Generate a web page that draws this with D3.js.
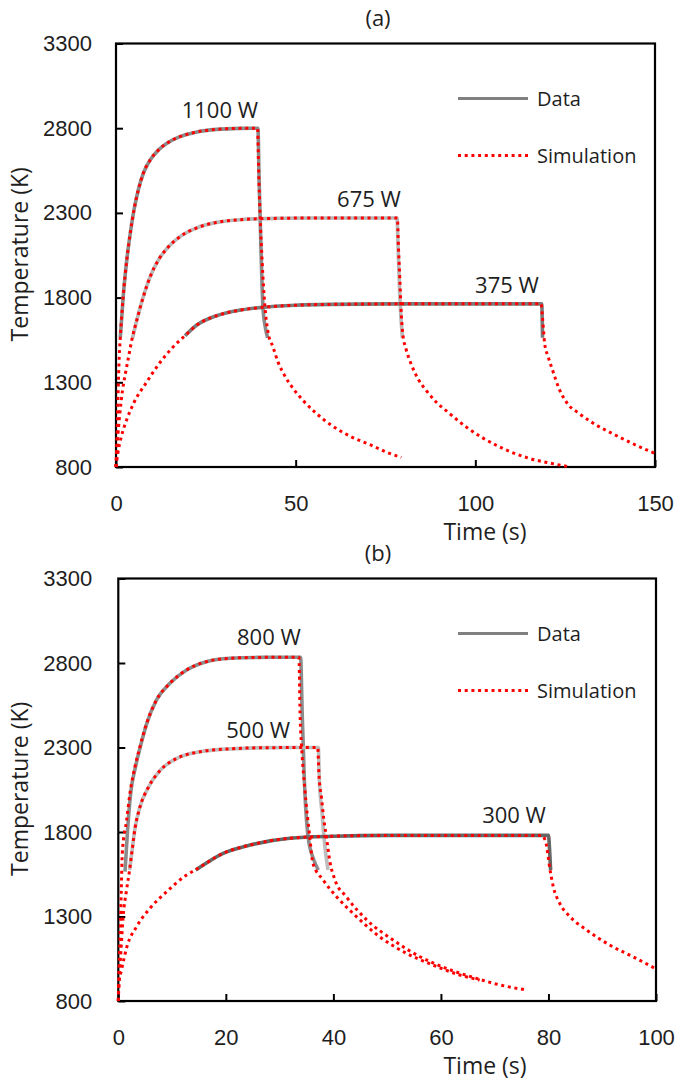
<!DOCTYPE html>
<html>
<head>
<meta charset="utf-8">
<script src="https://cdn.jsdelivr.net/npm/d3@7"></script>
<style>
  html, body { margin: 0; padding: 0; background: #fff; }
  svg { display: block; font-family: "Open Sans", "DejaVu Sans", sans-serif; }
</style>
</head>
<body>
<svg id="chart" width="676" height="1084"></svg>
<script>
// ---------------- DATA (time s, temperature K) ----------------
// Panel (a)
const panelATitle = "(a)";
const panelAXTicks = [0, 50, 100, 150];
const panelAYTicks = [800, 1300, 1800, 2300, 2800, 3300];
const panelAPowers = ["1100 W", "675 W", "375 W"];
const panelALabelAt = [[28.9, 2860], [70.4, 2337], [108.8, 1825]];

const dataA1100 = [[1.2,1565],[2.0,1805],[3.0,2022],[4.1,2199],[5.0,2317],[6.2,2435],[7.6,2534],[9.5,2612],[11.8,2671],[14.6,2717],[17.8,2750],[22.5,2778],[28,2793],[34.5,2799],[39.5,2800],[39.8,2520],[40.2,2200],[40.9,1743],[41.6,1620],[42.2,1563]];
const simA1100 = [[0,800],[0.3,1000],[0.6,1250],[0.9,1450],[1.2,1565],[2.0,1805],[3.0,2022],[4.1,2199],[5.0,2317],[6.2,2435],[7.6,2534],[9.5,2612],[11.8,2671],[14.6,2717],[17.8,2750],[22.5,2778],[28,2793],[34.5,2799],[39.4,2800],[39.7,2550],[40.1,2290],[40.7,2000],[41.4,1760],[42.3,1596],[43.7,1508],[45.1,1419],[46.9,1341],[49.3,1263],[52,1194],[55.3,1125],[59.9,1047],[65.5,978],[71,929],[75.7,884],[79.4,857]];

const dataA675 = [[4.6,1560],[5.8,1668],[7.6,1805],[9.5,1923],[11.8,2022],[14.6,2100],[17.8,2160],[22.5,2212],[28,2244],[34.5,2260],[45,2268],[55,2270],[78.2,2270],[78.5,2100],[79.0,1800],[79.7,1563]];
const simA675 = [[0,800],[0.4,950],[1.0,1100],[1.8,1250],[2.6,1350],[3.5,1450],[4.4,1550],[5.8,1668],[7.6,1805],[9.5,1923],[11.8,2022],[14.6,2100],[17.8,2160],[22.5,2212],[28,2244],[34.5,2260],[45,2268],[55,2270],[78.3,2270],[78.6,2100],[79.0,1900],[79.4,1700],[79.8,1586],[80.7,1498],[82.1,1410],[84,1322],[86.3,1253],[89.1,1184],[92.3,1125],[97.4,1037],[106.7,919],[115,851],[121,822],[126.5,800]];

const dataA375 = [[19.2,1575],[22.5,1638],[28,1693],[34.5,1726],[40,1741],[50,1755],[60,1760],[80,1763],[118.5,1763],[118.6,1680],[118.7,1563]];
const simA375 = [[0,800],[0.5,880],[1.5,980],[3,1080],[5,1180],[8.5,1300],[12,1410],[15.5,1500],[19.2,1575],[22.5,1638],[28,1693],[34.5,1726],[40,1741],[50,1755],[60,1760],[80,1763],[118.3,1763],[118.7,1680],[119.3,1528],[120.3,1449],[121.5,1371],[123.3,1263],[125.6,1175],[128.9,1116],[132.6,1061],[138.1,998],[143.7,939],[150,880]];

// Panel (b)
const panelBTitle = "(b)";
const panelBXTicks = [0, 20, 40, 60, 80, 100];
const panelBYTicks = [800, 1300, 1800, 2300, 2800, 3300];
const panelBPowers = ["800 W", "500 W", "300 W"];
const panelBLabelAt = [[28.0, 2907], [26.0, 2354], [73.6, 1851]];

const dataB800 = [[1.25,1565],[1.7,1800],[2.3,2029],[3.2,2186],[4.1,2305],[5.3,2443],[7.1,2581],[9.6,2680],[12.7,2759],[16.4,2808],[20.8,2828],[26,2833],[33.9,2834],[34.2,2500],[34.6,2108],[35.3,1772],[36.3,1640],[37.2,1575]];
const simB800 = [[0,800],[0.15,1000],[0.35,1200],[0.55,1450],[0.74,1674],[1.55,1871],[2.17,2029],[3.1,2186],[4.03,2305],[5.27,2443],[7.1,2581],[9.6,2680],[12.7,2759],[16.4,2808],[20.8,2828],[26,2833],[33.6,2834],[33.8,2500],[34.1,2300],[34.7,2050],[35.6,1772],[36.2,1615],[38.1,1516],[40.6,1417],[44.3,1299],[48.6,1180],[53.6,1082],[58.5,1013],[63.5,954],[67.2,924]];

const dataB500 = [[2.1,1575],[2.5,1674],[3.1,1820],[4.0,1945],[5.6,2065],[7.8,2165],[10.9,2236],[15.2,2275],[20.8,2292],[28,2299],[37.2,2300],[37.4,2100],[37.9,1911],[38.3,1750],[39.0,1575]];
const simB500 = [[0,800],[0.2,950],[0.5,1100],[0.9,1300],[1.5,1450],[2.1,1575],[2.5,1674],[3.1,1820],[4.0,1945],[5.6,2065],[7.8,2165],[10.9,2236],[15.2,2275],[20.8,2292],[28,2299],[37.1,2300],[37.3,2150],[37.8,2000],[38.2,1880],[38.7,1772],[39.3,1634],[40.3,1516],[42.4,1417],[46.2,1280],[51.1,1161],[56.1,1062],[61,993],[66.6,934],[69.7,905],[75.9,865]];

const dataB300 = [[14.4,1575],[19.5,1674],[24.5,1723],[31.9,1763],[40,1775],[50,1780],[80,1780],[80.2,1700],[80.4,1575]];
const simB300 = [[0,800],[0.1,900],[0.6,983],[1.6,1121],[3.4,1240],[5.9,1349],[9.0,1447],[12.7,1546],[14.3,1575],[19.5,1674],[24.5,1723],[31.9,1763],[40,1775],[50,1780],[78.7,1780],[79.5,1740],[80.3,1575],[80.9,1476],[82.1,1378],[84,1299],[87.1,1220],[91.4,1131],[95.7,1062],[100,990]];

const legendLabels = ["Data", "Simulation"];
const xTitle = "Time (s)";
const yTitle = "Temperature (K)";

// ---------------- DRAWING ----------------
const svg = d3.select("#chart");
const textColor = "#1e1e1e";

function panel(cfg) {
  const g = svg.append("g");
  const x = d3.scaleLinear().domain(cfg.xDomain).range([cfg.left, cfg.right]);
  const y = d3.scaleLinear().domain([800, 3300]).range([cfg.bottom, cfg.top]);

  // axes
  const xAxis = d3.axisBottom(x).tickValues(cfg.xTicks).tickSizeInner(-7).tickSizeOuter(0).tickPadding(28).tickFormat(d3.format("d"));
  const yAxis = d3.axisLeft(y).tickValues(cfg.yTicks).tickSizeInner(-7).tickSizeOuter(0).tickPadding(cfg.yPad).tickFormat(d3.format("d"));
  const gx = g.append("g").attr("transform", `translate(0,${cfg.bottom})`).call(xAxis);
  const gy = g.append("g").attr("transform", `translate(${cfg.left},0)`).call(yAxis);
  [gx, gy].forEach(a => {
    a.select(".domain").remove();
    a.selectAll(".tick line").attr("stroke", "#000").attr("stroke-width", 2);
    a.selectAll(".tick text").attr("fill", textColor).style("font-size", "22px");
  });

  // frame
  g.append("rect")
    .attr("x", cfg.left).attr("y", cfg.top)
    .attr("width", cfg.right - cfg.left).attr("height", cfg.bottom - cfg.top)
    .attr("fill", "none").attr("stroke", "#000").attr("stroke-width", 2.2);

  const line = d3.line().x(d => x(d[0])).y(d => y(d[1])).curve(d3.curveMonotoneX);

  const plot = g.append("g");
  cfg.data.forEach((s, i) => {
    plot.append("path").attr("d", line(s)).attr("fill", "none")
      .attr("stroke", cfg.dataColors[i]).attr("stroke-width", 3.6)
      .attr("stroke-linejoin", "round").attr("stroke-linecap", "butt");
  });
  cfg.sim.forEach(s => {
    plot.append("path").attr("d", line(s)).attr("fill", "none")
      .attr("stroke", "#ff0000").attr("stroke-width", 3)
      .attr("stroke-dasharray", "3 3.7");
  });

  // power labels
  cfg.powers.forEach((p, i) => {
    g.append("text").attr("x", x(cfg.labelAt[i][0])).attr("y", y(cfg.labelAt[i][1]))
      .attr("text-anchor", "middle").attr("fill", textColor).style("font-size", "22px").text(p);
  });

  // legend
  const ly1 = cfg.top + 55, ly2 = cfg.top + 112;
  g.append("line").attr("x1", 458).attr("x2", 528).attr("y1", ly1).attr("y2", ly1)
    .attr("stroke", "#808080").attr("stroke-width", 3.2);
  g.append("line").attr("x1", 458).attr("x2", 528).attr("y1", ly2).attr("y2", ly2)
    .attr("stroke", "#ff0000").attr("stroke-width", 3).attr("stroke-dasharray", "3 3.7");
  g.append("text").attr("x", 537).attr("y", ly1 + 7).attr("fill", textColor).style("font-size", "20px").text(legendLabels[0]);
  g.append("text").attr("x", 537).attr("y", ly2 + 7).attr("fill", textColor).style("font-size", "20px").text(legendLabels[1]);

  // titles
  g.append("text").attr("x", 378).attr("y", cfg.top - 18).attr("text-anchor", "middle")
    .attr("fill", textColor).style("font-size", "22px").text(cfg.title);
  g.append("text").attr("x", 485).attr("y", cfg.bottom + 73).attr("text-anchor", "middle")
    .attr("fill", textColor).style("font-size", "23px").text(xTitle);
  const cy = (cfg.top + cfg.bottom) / 2 - 1;
  g.append("text").attr("transform", `translate(28,${cy}) rotate(-90)`).attr("text-anchor", "middle")
    .attr("fill", textColor).style("font-size", "23px").text(yTitle);
}

panel({
  title: panelATitle, left: 116, right: 655, top: 43.5, bottom: 467, yPad: 24,
  xDomain: [0, 150], xTicks: panelAXTicks, yTicks: panelAYTicks,
  data: [dataA1100, dataA675, dataA375], sim: [simA1100, simA675, simA375],
  dataColors: ["#8a8a8a", "#b8b8b8", "#7a7a7a"],
  powers: panelAPowers, labelAt: panelALabelAt
});
panel({
  title: panelBTitle, left: 118.3, right: 656, top: 578.5, bottom: 1001, yPad: 26,
  xDomain: [0, 100], xTicks: panelBXTicks, yTicks: panelBYTicks,
  data: [dataB800, dataB500, dataB300], sim: [simB800, simB500, simB300],
  dataColors: ["#8c8c8c", "#bdbdbd", "#666666"],
  powers: panelBPowers, labelAt: panelBLabelAt
});
</script>
</body>
</html>
